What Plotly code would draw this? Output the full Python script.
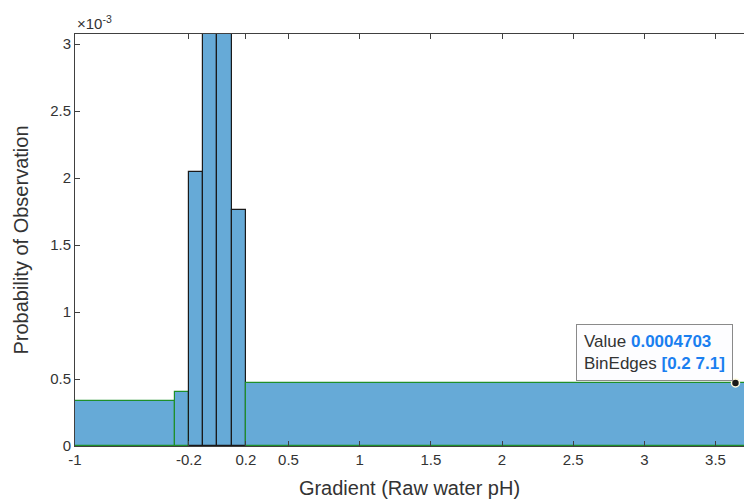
import plotly.graph_objects as go

# Histogram bin edges and per-bin probability values
bin_edges = [-7.1, -0.3, -0.2, -0.1, 0.0, 0.1, 0.2, 7.1]
bin_values = [0.000337, 0.000403, 0.002047, 0.0062, 0.0057, 0.001759, 0.0004703]

x_ticks = [-1, -0.2, 0.2, 0.5, 1, 1.5, 2, 2.5, 3, 3.5]
x_tick_labels = ["-1", "-0.2", "0.2", "0.5", "1", "1.5", "2", "2.5", "3", "3.5"]
y_ticks = [0, 0.0005, 0.001, 0.0015, 0.002, 0.0025, 0.003]
y_tick_labels = ["0", "0.5", "1", "1.5", "2", "2.5", "3"]

# data tip on the last bin
tip_x = 3.64
tip_value = bin_values[-1]
tip_edges = (bin_edges[-2], bin_edges[-1])

centers = [(a + b) / 2 for a, b in zip(bin_edges[:-1], bin_edges[1:])]
widths = [b - a for a, b in zip(bin_edges[:-1], bin_edges[1:])]
edge_colors = ["#1f8f2a" if v < 0.001 else "#1a1a1a" for v in bin_values]

axis_color = "#404040"
font_family = "Liberation Sans, Arial, sans-serif"

fig = go.Figure()
fig.add_trace(go.Bar(
    x=centers, y=bin_values, width=widths,
    marker=dict(color="rgb(102,170,215)", line=dict(color=edge_colors, width=1.2)),
    hoverinfo="skip", showlegend=False,
))
fig.add_trace(go.Scatter(
    x=[tip_x], y=[tip_value], mode="markers",
    marker=dict(color="#1a1a1a", size=8, line=dict(color="#fffbe0", width=1.5)),
    hoverinfo="skip", showlegend=False, cliponaxis=False,
))

fig.add_annotation(
    x=tip_x, y=tip_value, xref="x", yref="y",
    xanchor="right", yanchor="bottom", xshift=-2, yshift=2,
    showarrow=False, align="left",
    text=("Value <b><span style='color:#1a7ff0'>%.7f</span></b><br>"
          "BinEdges <b><span style='color:#1a7ff0'>[%g %g]</span></b>")
         % (tip_value, tip_edges[0], tip_edges[1]),
    font=dict(family=font_family, size=17, color="#333333"),
    bgcolor="#fdfdff", bordercolor="#8a8a8a", borderwidth=1, borderpad=7,
)

# axis exponent label
fig.add_annotation(
    x=0, y=1, xref="paper", yref="paper", xanchor="left", yanchor="bottom",
    showarrow=False, text="×10<sup>-3</sup>", yshift=0,
    font=dict(family=font_family, size=15, color="#333333"),
)

fig.update_layout(
    width=744, height=502,
    margin=dict(l=75, r=0, t=34, b=56),
    paper_bgcolor="white", plot_bgcolor="white",
    bargap=0,
    font=dict(family=font_family, color="#333333"),
    xaxis=dict(
        range=[-1, 3.70], tickvals=x_ticks, ticktext=x_tick_labels,
        showgrid=False, zeroline=False,
        showline=True, linecolor=axis_color, linewidth=1, mirror="ticks",
        ticks="inside", ticklen=5, tickcolor=axis_color,
        tickfont=dict(size=15, color="#333333"),
        title=dict(text="Gradient (Raw water pH)", font=dict(size=20, color="#333333"), standoff=13),
    ),
    yaxis=dict(
        range=[0, 0.003075], tickvals=y_ticks, ticktext=y_tick_labels,
        showgrid=False, zeroline=False,
        showline=True, linecolor=axis_color, linewidth=1, mirror=False,
        ticks="inside", ticklen=5, tickcolor=axis_color,
        tickfont=dict(size=15, color="#333333"),
        title=dict(text="Probability of Observation", font=dict(size=20, color="#333333"), standoff=16),
    ),
)

fig.write_html("out.html")
